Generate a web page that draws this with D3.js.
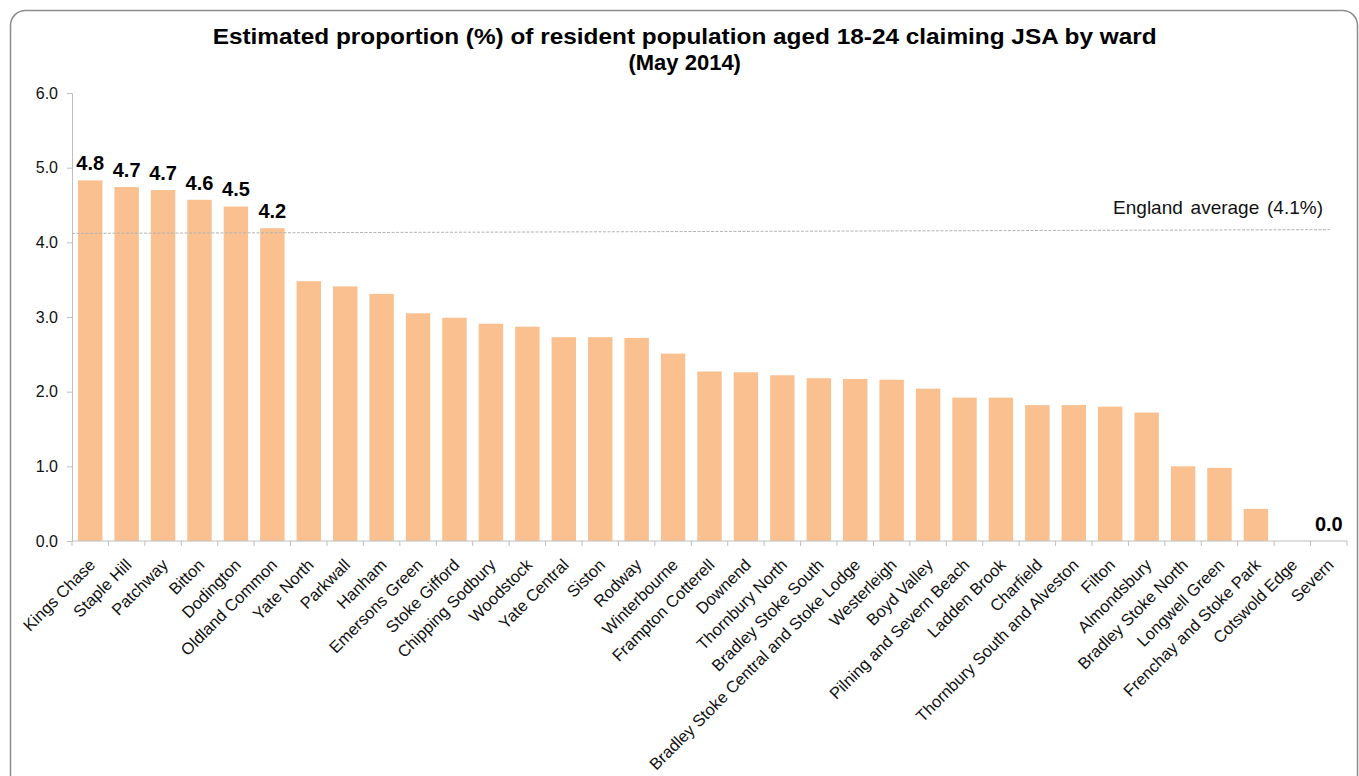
<!DOCTYPE html>
<html><head><meta charset="utf-8">
<script src="https://cdn.jsdelivr.net/npm/d3@7"></script>
<style>body{margin:0;background:#fff;overflow:hidden} text{font-family:"Liberation Sans",Arial,sans-serif}</style>
</head><body><svg id="c" width="1359" height="776"></svg>
<script>
const titleLines = ["Estimated proportion (%) of resident population aged 18-24 claiming JSA by ward", "(May 2014)"];
const categories = ["Kings Chase","Staple Hill","Patchway","Bitton","Dodington","Oldland Common","Yate North","Parkwall","Hanham","Emersons Green","Stoke Gifford","Chipping Sodbury","Woodstock","Yate Central","Siston","Rodway","Winterbourne","Frampton Cotterell","Downend","Thornbury North","Bradley Stoke South","Bradley Stoke Central and Stoke Lodge","Westerleigh","Boyd Valley","Pilning and Severn Beach","Ladden Brook","Charfield","Thornbury South and Alveston","Filton","Almondsbury","Bradley Stoke North","Longwell Green","Frenchay and Stoke Park","Cotswold Edge","Severn"];
const values = [4.83,4.74,4.70,4.57,4.48,4.19,3.48,3.41,3.31,3.05,2.99,2.91,2.87,2.73,2.73,2.72,2.51,2.27,2.26,2.22,2.18,2.17,2.16,2.04,1.92,1.92,1.82,1.82,1.80,1.72,1.00,0.98,0.43,0.00,0.00];
const labelledCategories = ["Kings Chase","Staple Hill","Patchway","Bitton","Dodington","Oldland Common","Severn"];
const yTicks = [0,1,2,3,4,5,6];
const englandAverage = 4.1;
const averageLineEnds = [4.12, 4.17];
const averageLabel = "England average (" + englandAverage.toFixed(1) + "%)";

const svg = d3.select("#c");
const data = categories.map((c,i)=>({c, v: values[i]}));

// frame
svg.append("rect").attr("x",10.5).attr("y",10.5).attr("width",1347).attr("height",790)
  .attr("rx",15).attr("fill","#fff").attr("stroke","#8c8c8c").attr("stroke-width",1.5);

const x = d3.scaleBand().domain(categories).range([72,1347]).paddingInner(0.33).paddingOuter(0.165);
const y = d3.scaleLinear().domain([0,6]).range([541,93]);

// title
const t1 = svg.append("text").attr("x",684.7).attr("y",43.5).attr("text-anchor","middle")
  .attr("font-size",22).attr("font-weight","bold").attr("fill","#000").text(titleLines[0]);
t1.attr("textLength",944).attr("lengthAdjust","spacingAndGlyphs");
svg.append("text").attr("x",684.7).attr("y",70).attr("text-anchor","middle")
  .attr("font-size",22).attr("font-weight","bold").attr("fill","#000").text(titleLines[1]);

// bars
svg.append("g").selectAll("rect").data(data).join("rect")
  .attr("x",d=>x(d.c)).attr("width",x.bandwidth())
  .attr("y",d=>y(d.v)).attr("height",d=>y(0)-y(d.v))
  .attr("fill","#FAC090");

// y axis
const yAxis = svg.append("g").attr("transform","translate(72,0)")
  .call(d3.axisLeft(y).tickValues(yTicks).tickFormat(d3.format(".1f")).tickSize(5).tickPadding(9));
yAxis.select(".domain").attr("stroke","#bfbfbf");
yAxis.selectAll(".tick line").attr("stroke","#bfbfbf");
yAxis.selectAll(".tick text").attr("font-size",16).attr("fill","#111");

// x axis
const xg = svg.append("g").attr("transform","translate(0,541)");
xg.append("line").attr("x1",72).attr("x2",1347).attr("y1",0).attr("y2",0).attr("stroke","#bfbfbf");
const bounds = categories.map(c=>x(c)-x.step()*x.paddingInner()/2).concat([x(categories[categories.length-1])+x.bandwidth()+x.step()*x.paddingInner()/2]);
xg.selectAll("line.tk").data(bounds).join("line").attr("class","tk")
  .attr("x1",d=>d).attr("x2",d=>d).attr("y1",0).attr("y2",5).attr("stroke","#bfbfbf");
xg.selectAll("text").data(categories).join("text")
  .attr("transform",c=>`translate(${x(c)+x.bandwidth()/2+6},25) rotate(-45)`)
  .attr("text-anchor","end").attr("font-size",16.5).attr("fill","#111").text(c=>c);

// England average line
svg.append("line")
  .attr("x1",72).attr("x2",1330)
  .attr("y1",y(averageLineEnds[0])).attr("y2",y(averageLineEnds[1]))
  .attr("stroke","#b3b3b3").attr("stroke-width",1).attr("stroke-dasharray","3,1.5");
svg.append("text").attr("x",1323).attr("y",213.5).attr("text-anchor","end")
  .attr("font-size",19).attr("fill","#111").attr("word-spacing",2.5).text(averageLabel);

// data labels
svg.append("g").selectAll("text").data(data.filter(d=>labelledCategories.includes(d.c))).join("text")
  .attr("x",d=>x(d.c)+x.bandwidth()/2).attr("y",d=>y(d.v)-10)
  .attr("text-anchor","middle").attr("font-size",20).attr("font-weight","bold").attr("fill","#000")
  .text(d=>d3.format(".1f")(d.v));
</script></body></html>
